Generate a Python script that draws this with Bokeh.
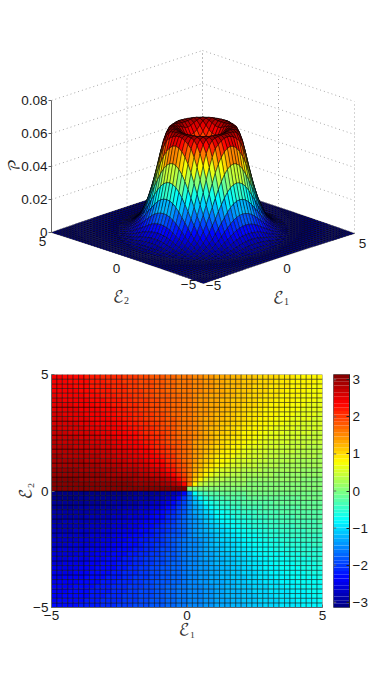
import numpy as np
from bokeh.plotting import figure
from bokeh.models import Range1d, FixedTicker, LinearColorMapper, ColumnDataSource
from bokeh.layouts import column, row
from bokeh.embed import file_html
from bokeh.resources import INLINE
from bokeh.core.properties import value

# Radial profile of P, estimated from the reference's silhouette and colour bands.
# The 51x51 surface is evaluated from this read-off profile (not read cell by cell);
# the lower panel shows the phase angle around the centre, computed on the same grid.
profile_r = [0.0, 0.4, 0.8, 1.1, 1.35, 1.6, 1.8, 2.0, 2.2, 2.4, 2.6, 2.8, 3.0, 3.3, 3.6, 4.0, 7.2]
profile_p = [0.044, 0.048, 0.057, 0.063, 0.0645, 0.0632, 0.058, 0.048, 0.037, 0.0275, 0.0195, 0.0135, 0.0088, 0.0046, 0.0022, 0.0007, 0.0]
axis_ticks = [-5, 0, 5]
p_ticks = [0, 0.02, 0.04, 0.06, 0.08]
phase_ticks = [-3, -2, -1, 0, 1, 2, 3]
E_MIN, E_MAX, E_COUNT = -5, 5, 51

AX = "#666666"
TXT = "#1a1a1a"
GRID = "#a8a8a8"
FONT = "Liberation Sans"
MATH = "DejaVu Math TeX Gyre"
TICK_SIZE = "13.5px"


def jet(n=64):
    out = []
    for i in range(n):
        t = (i + 0.5) / n
        r = np.clip(min(4 * t - 1.5, -4 * t + 4.5), 0, 1)
        g = np.clip(min(4 * t - 0.5, -4 * t + 3.5), 0, 1)
        b = np.clip(min(4 * t + 0.5, -4 * t + 2.5), 0, 1)
        out.append("#%02x%02x%02x" % (int(r * 255), int(g * 255), int(b * 255)))
    return out


JET = jet()
E = np.linspace(E_MIN, E_MAX, E_COUNT)
G1, G2 = np.meshgrid(E, E)
P = np.interp(np.hypot(G1, G2), profile_r, profile_p)
PHASE = np.arctan2(G2, G1)


def proj(e1, e2, z):
    """Oblique view of the surface, in page pixels of the top panel."""
    e1, e2, z = np.asarray(e1, float), np.asarray(e2, float), np.asarray(z, float)
    return 203 + 15.1 * (e1 + 5) - 15.2 * (e2 + 5), 283 - 5.0 * (e1 + 5) - 5.1 * (e2 + 5) - 1650 * z


# ---------- top panel ----------
p1 = figure(width=374, height=328, x_range=Range1d(0, 374), y_range=Range1d(328, 0),
            toolbar_location=None, output_backend="svg", min_border=0)
p1.axis.visible = False
p1.grid.visible = False
p1.outline_line_color = None


def gridline(a, b):
    x, y = proj([a[0], b[0]], [a[1], b[1]], [a[2], b[2]])
    p1.line(x, y, line_color=GRID, line_width=1, line_dash="1 3")


zt = p_ticks[-1]
for z in p_ticks[1:]:
    gridline((-5, 5, z), (5, 5, z))
    gridline((5, 5, z), (5, -5, z))
for t in axis_ticks:
    gridline((t, 5, 0), (t, 5, zt))
    gridline((5, t, 0), (5, t, zt))

mapper_p = LinearColorMapper(palette=JET, low=float(P.min()), high=float(P.max()))
xs, ys, vals, order = [], [], [], []
for i in range(E_COUNT - 1):
    for j in range(E_COUNT - 1):
        idx = ([i, i, i + 1, i + 1], [j, j + 1, j + 1, j])
        x, y = proj(G1[idx], G2[idx], P[idx])
        xs.append(x.tolist())
        ys.append(y.tolist())
        vals.append(float(P[i, j]))
        order.append(-(E[i] + E[j]))
perm = np.argsort(order, kind="stable")
src = ColumnDataSource(dict(xs=[xs[k] for k in perm], ys=[ys[k] for k in perm], v=[vals[k] for k in perm]))
p1.patches("xs", "ys", source=src, fill_color={"field": "v", "transform": mapper_p},
           line_color="black", line_width=0.45)

# z axis
ax, ay = proj([-5, -5], [5, 5], [0, zt])
p1.line(ax, ay, line_color=AX, line_width=1)
for z in p_ticks:
    tx, ty = proj(-5, 5, z)
    p1.line([tx - 3, tx], [ty, ty], line_color=AX, line_width=1)
    p1.text([tx - 4], [ty], text=[("%g" % z) if z else "0"], text_align="right", text_baseline="middle",
            text_font=value(FONT), text_font_size=TICK_SIZE, text_color=TXT)


def lab(x, y, s, size=TICK_SIZE, font=FONT, color=TXT, angle=0.0):
    p1.text([x], [y], text=[s], text_align="center", text_baseline="middle", text_font=value(font),
            text_font_size=size, text_color=color, angle=angle)


e1_off = {-5: (10, 2), 0: (8, 10), 5: (8, 10)}
e2_off = {-5: (-15, 1), 0: (-11, 10), 5: (-9, 9)}
for t, s in zip(axis_ticks, ["−5", "0", "5"]):
    x, y = proj(t, -5, 0)
    lab(x + e1_off[t][0], y + e1_off[t][1], s)
    x, y = proj(-5, t, 0)
    lab(x + e2_off[t][0], y + e2_off[t][1], s)

lab(118, 296, "ℰ", "16px", MATH, "#333333")
lab(126, 300, "2", "10px", "Liberation Serif", "#333333")
lab(278, 297, "ℰ", "16px", MATH, "#333333")
lab(286, 301, "1", "10px", "Liberation Serif", "#333333")
lab(14, 165, "𝒫", "15px", MATH, "#222222", angle=np.pi / 2)

# ---------- phase panel ----------
mapper_a = LinearColorMapper(palette=JET, low=-np.pi, high=np.pi)
p2 = figure(width=328, height=319, x_range=Range1d(E_MIN, E_MAX), y_range=Range1d(E_MIN, E_MAX),
            toolbar_location=None, output_backend="svg", min_border_left=51, min_border_right=6,
            min_border_top=46, min_border_bottom=40)
step = E[1] - E[0]
src2 = ColumnDataSource(dict(l=G1[:-1, :-1].ravel(), r=G1[:-1, :-1].ravel() + step,
                             b=G2[:-1, :-1].ravel(), t=G2[:-1, :-1].ravel() + step,
                             v=PHASE[:-1, :-1].ravel()))
p2.quad(left="l", right="r", bottom="b", top="t", source=src2,
        fill_color={"field": "v", "transform": mapper_a}, line_color="black", line_width=0.45)
p2.grid.visible = False
p2.outline_line_color = None
for a in (p2.xaxis[0], p2.yaxis[0]):
    a.ticker = FixedTicker(ticks=axis_ticks)
    a.major_label_overrides = {-5: "−5", 0: "0", 5: "5"}
    a.major_label_text_font = FONT
    a.major_label_text_font_size = TICK_SIZE
    a.major_label_text_color = TXT
    a.axis_line_color = AX
    a.major_tick_line_color = AX
    a.major_tick_in = 3
    a.major_tick_out = 0
    a.minor_tick_line_color = None
    a.axis_label_text_font = MATH
    a.axis_label_text_font_size = "16px"
    a.axis_label_text_font_style = "normal"
    a.axis_label_text_color = "#333333"
p2.xaxis[0].axis_label = "ℰ₁"
p2.yaxis[0].axis_label = "ℰ₂"
p2.xaxis[0].axis_label_standoff = -1
p2.yaxis[0].axis_label_standoff = -4
p2.xaxis[0].major_label_standoff = 3
p2.yaxis[0].major_label_standoff = 3

# ---------- colour bar ----------
p3 = figure(width=46, height=319, x_range=Range1d(0, 1), y_range=Range1d(-np.pi, np.pi),
            toolbar_location=None, output_backend="svg", y_axis_location="right",
            min_border_left=5, min_border_right=25, min_border_top=46, min_border_bottom=40)
edges = np.linspace(-np.pi, np.pi, len(JET) + 1)
p3.quad(left=0, right=1, bottom=edges[:-1], top=edges[1:], fill_color=JET, line_color=None)
p3.segment(x0=0, x1=0.17, y0=phase_ticks, y1=phase_ticks, line_color=AX, line_width=1)
p3.grid.visible = False
p3.xaxis.visible = False
p3.outline_line_color = AX
a = p3.yaxis[0]
a.ticker = FixedTicker(ticks=phase_ticks)
a.major_label_overrides = {t: str(t).replace("-", "−") for t in phase_ticks}
a.major_label_text_font = FONT
a.major_label_text_font_size = TICK_SIZE
a.major_label_text_color = TXT
a.axis_line_color = "#222222"
a.major_tick_line_color = "#222222"
a.major_tick_in = 3
a.major_tick_out = 0
a.minor_tick_line_color = None
a.major_label_standoff = 3

page = column(p1, row(p2, p3, spacing=0), spacing=0)
open("out.html", "w").write(file_html(page, INLINE))
